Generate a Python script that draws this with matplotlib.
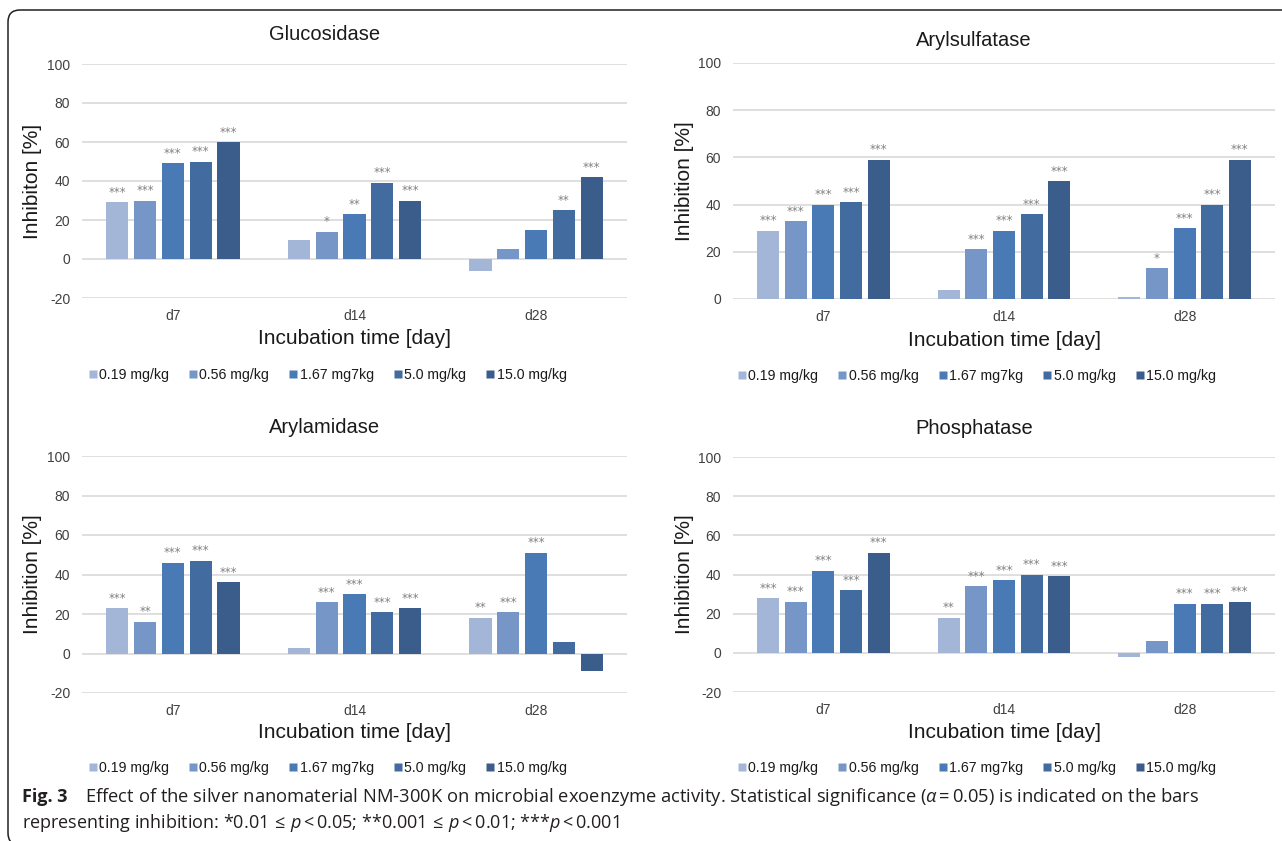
import matplotlib.pyplot as plt
import numpy as np
from matplotlib.lines import Line2D
from matplotlib.patches import FancyBboxPatch

W, H = 1282, 841

plt.rcParams.update(
    {
        "font.family": ["Liberation Sans", "DejaVu Sans"],
        "axes.unicode_minus": False,
        "mathtext.fontset": "custom",
        "mathtext.rm": "Open Sans",
        "mathtext.it": "Open Sans:italic",
        "mathtext.bf": "Open Sans:bold",
    }
)

days = ["d7", "d14", "d28"]
doses = ["0.19 mg/kg", "0.56 mg/kg", "1.67 mg7kg", "5.0 mg/kg", "15.0 mg/kg"]
colors = ["#a3b6d7", "#7596c6", "#4a7ab5", "#426b9f", "#3a5d8b"]

# values per day (rows) and dose (columns)
glucosidase = [[29, 30, 49, 50, 60], [10, 14, 23, 39, 30], [-6, 5, 15, 25, 42]]
glucosidase_sig = [["***", "***", "***", "***", "***"],
                   ["", "*", "**", "***", "***"],
                   ["", "", "", "**", "***"]]

arylsulfatase = [[29, 33, 40, 41, 59], [4, 21, 29, 36, 50], [1, 13, 30, 40, 59]]
arylsulfatase_sig = [["***", "***", "***", "***", "***"],
                     ["", "***", "***", "***", "***"],
                     ["", "*", "***", "***", "***"]]

arylamidase = [[23, 16, 46, 47, 36], [3, 26, 30, 21, 23], [18, 21, 51, 6, -9]]
arylamidase_sig = [["***", "**", "***", "***", "***"],
                   ["", "***", "***", "***", "***"],
                   ["**", "***", "***", "", ""]]

phosphatase = [[28, 26, 42, 32, 51], [18, 34, 37, 40, 39], [-2, 6, 25, 25, 26]]
phosphatase_sig = [["***", "***", "***", "***", "***"],
                   ["**", "***", "***", "***", "***"],
                   ["", "", "***", "***", "***"]]

TEXT = "#404040"
GRID = "#d9d9d9"


def fx(px):
    return px / W


def fy(py):
    return 1 - py / H


def panel(fig, box, title, ylabel, vals, sig, ymin, title_y, xlab_y, leg_y):
    x0, y_top, x1, y_bot = box
    ax = fig.add_axes([fx(x0), fy(y_bot), fx(x1 - x0), (y_bot - y_top) / H])
    vals = np.array(vals, dtype=float)
    x = np.arange(len(days))
    pitch = 0.153
    for j in range(len(doses)):
        xs = x + (j - 2) * pitch
        ax.bar(xs, vals[:, j], width=pitch * 0.8, color=colors[j], zorder=3)
        for i in range(len(days)):
            if sig[i][j]:
                ax.annotate(sig[i][j], (xs[i], vals[i, j]), xytext=(0, 2.5),
                            textcoords="offset points", ha="center", va="bottom",
                            fontsize=8.5, family="DejaVu Sans", color="#808080")
    ax.set_xlim(-0.5, 2.5)
    ax.set_ylim(ymin, 100)
    ax.set_yticks(np.arange(ymin, 101, 20))
    ax.yaxis.grid(True, color=GRID, linewidth=1.2, zorder=0)
    ax.set_axisbelow(True)
    for s in ax.spines.values():
        s.set_visible(False)
    ax.set_xticks(x)
    ax.set_xticklabels(days)
    ax.tick_params(axis="both", length=0, labelsize=10, labelcolor=TEXT)
    ax.tick_params(axis="y", pad=8.5)
    ax.tick_params(axis="x", pad=8)
    cx = (x0 + x1) / 2
    fig.text(fx(cx - 30), fy(title_y), title, ha="center", va="center", fontsize=14.5, color="#1a1a1a")
    fig.text(fx(x0 - 49), fy((y_top + y_bot) / 2), ylabel, rotation=90, ha="center",
             va="center", fontsize=15, color="#1a1a1a")
    fig.text(fx(cx), fy(xlab_y), "Incubation time [day]", ha="center", va="center",
             fontsize=15, color="#1a1a1a")
    handles = [Line2D([], [], marker="s", linestyle="none", markersize=5.5,
                      markerfacecolor=c, markeredgecolor="none") for c in colors]
    fig.legend(handles, doses, loc="center", ncol=5, frameon=False, fontsize=10.2,
               bbox_to_anchor=(fx(cx - 27), fy(leg_y)), handlelength=0.6,
               handletextpad=0.15, columnspacing=1.4, labelcolor="#1a1a1a")
    return ax


fig = plt.figure(figsize=(W / 100, H / 100), dpi=100)

frame = FancyBboxPatch((8 / 100, (H - 845) / 100), (1300 - 8) / 100, (845 - 10) / 100,
                       boxstyle="round,pad=0,rounding_size=0.12", transform=fig.dpi_scale_trans,
                       facecolor="none", edgecolor="#231f20", linewidth=1.1, clip_on=False)
fig.patches.append(frame)

panel(fig, (82, 64, 627, 298), "Glucosidase", "Inhibiton [%]", glucosidase, glucosidase_sig,
      -20, 35, 338, 375)
panel(fig, (733, 63, 1275, 299), "Arylsulfatase", "Inhibition [%]", arylsulfatase,
      arylsulfatase_sig, 0, 41, 340, 376)
panel(fig, (82, 456, 627, 693), "Arylamidase", "Inhibition [%]", arylamidase, arylamidase_sig,
      -20, 427, 733, 768)
panel(fig, (733, 457, 1275, 692), "Phosphatase", "Inhibition [%]", phosphatase,
      phosphatase_sig, -20, 428, 733, 768)

cap = "#231f20"
fig.text(fx(22), fy(797), "Fig. 3", ha="left", va="center", fontsize=13, fontweight="bold",
         family="Open Sans", color=cap)
fig.text(fx(85), fy(797),
         r"Effect of the silver nanomaterial NM-300K on microbial exoenzyme activity. "
         r"Statistical significance ($\mathit{\alpha}\,$=$\,$0.05) is indicated on the bars",
         ha="left", va="center", fontsize=13.2, family="Open Sans", color=cap)
fig.text(fx(22), fy(823),
         r"representing inhibition: *0.01$\,\leq\,\mathit{p}\,$<$\,$0.05; "
         r"**0.001$\,\leq\,\mathit{p}\,$<$\,$0.01; ***$\mathit{p}\,$<$\,$0.001",
         ha="left", va="center", fontsize=13, family="Open Sans", color=cap)

fig.savefig("out.png", dpi=100)
